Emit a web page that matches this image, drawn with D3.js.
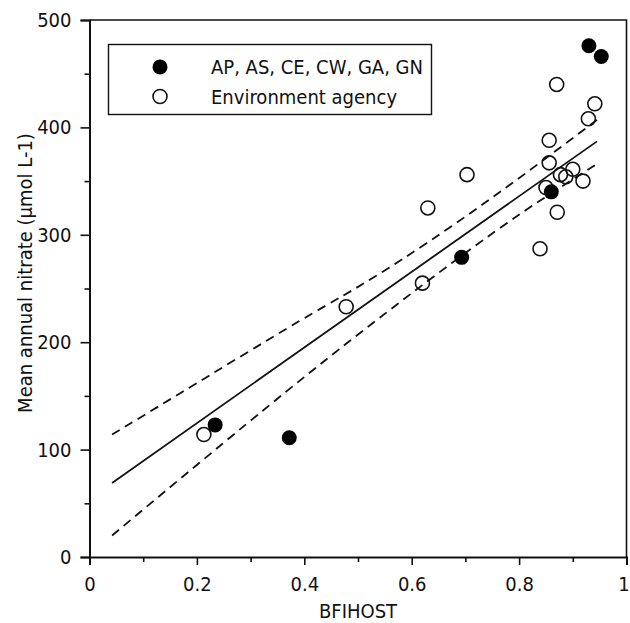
<!DOCTYPE html>
<html>
<head>
<meta charset="utf-8">
<script src="https://cdn.jsdelivr.net/npm/d3@7"></script>
<style>
    body { margin: 0; background: #fff; }
    svg text { font-family: "DejaVu Sans Condensed", "DejaVu Sans", sans-serif; font-stretch: condensed; fill: #111; }
</style>
</head>
<body>
<div id="chart"></div>
<script>
// Data
const filledX = [0.234, 0.372, 0.693, 0.860, 0.930, 0.953];
const filledY = [123, 111, 279, 340, 476, 466];
const openX = [0.213, 0.478, 0.620, 0.630, 0.703, 0.839, 0.850, 0.856, 0.856, 0.870, 0.871, 0.877, 0.887, 0.900, 0.919, 0.929, 0.941];
const openY = [114, 233, 255, 325, 356, 287, 344, 367, 388, 440, 321, 356, 354, 361, 350, 408, 422];

// regression line and confidence band
const fitX = [0.042, 0.945];
const fitY = [69, 387];
const upperX = [0.042, 0.169, 0.392, 0.541, 0.733, 0.945];
const upperY = [114, 152.5, 220, 264, 328.6, 407];
const lowerX = [0.042, 0.249, 0.401, 0.541, 0.755, 0.945];
const lowerY = [20, 106, 168, 223, 303, 366];

const xTicks = [0, 0.2, 0.4, 0.6, 0.8, 1];
const xMinor = [0.1, 0.3, 0.5, 0.7, 0.9];
const yTicks = [0, 100, 200, 300, 400, 500];
const yMinor = [50, 150, 250, 350, 450];

const legendLabels = ["AP, AS, CE, CW, GA, GN", "Environment agency"];

const width = 630, height = 623;
const plotLeft = 89.5, plotRight = 626.5, plotTop = 20, plotBottom = 557;

const svg = d3.select('#chart').append('svg')
    .attr('width', width)
    .attr('height', height);

const x = d3.scaleLinear().domain([0, 1]).range([plotLeft, plotRight]);
const y = d3.scaleLinear().domain([0, 500]).range([plotBottom, plotTop]);

// frame (top and right)
svg.append('path')
    .attr('d', `M${plotLeft},${plotTop}H${plotRight}V${plotBottom}`)
    .attr('fill', 'none')
    .attr('stroke', '#111')
    .attr('stroke-width', 1.6);

// x axis
const xAxis = svg.append('g').attr('transform', `translate(0,${plotBottom})`);
xAxis.call(d3.axisBottom(x).tickValues(xTicks).tickSize(8).tickPadding(12)
    .tickFormat(d => d === 0 ? '0' : d === 1 ? '1' : d3.format('.1f')(d)));
xAxis.append('g').call(d3.axisBottom(x).tickValues(xMinor).tickSize(5).tickFormat(''))
    .select('.domain').remove();
// keep the last label inside the window
xAxis.selectAll('.tick text').filter(d => d === 1).attr('dx', -3);

// y axis
const yAxis = svg.append('g').attr('transform', `translate(${plotLeft},0)`);
yAxis.call(d3.axisLeft(y).tickValues(yTicks).tickSize(9).tickPadding(9));
yAxis.append('g').call(d3.axisLeft(y).tickValues(yMinor).tickSize(5).tickFormat(''))
    .select('.domain').remove();

svg.selectAll('.domain').attr('stroke', '#111').attr('stroke-width', 2);
svg.selectAll('.tick line').attr('stroke', '#111').attr('stroke-width', 1.6);
svg.selectAll('.tick text').style('font-size', '20px').attr('fill', '#111');

// axis titles
svg.append('text')
    .attr('x', (plotLeft + plotRight) / 2)
    .attr('y', 618)
    .attr('text-anchor', 'middle')
    .style('font-size', '20px')
    .text('BFIHOST');

svg.append('text')
    .attr('transform', 'translate(32,273) rotate(-90)')
    .attr('text-anchor', 'middle')
    .style('font-size', '20px')
    .text('Mean annual nitrate (\u03bcmol L-1)');

// lines
const line = d3.line().x(d => x(d[0])).y(d => y(d[1]));
const curve = d3.line().x(d => x(d[0])).y(d => y(d[1])).curve(d3.curveNatural);

svg.append('path')
    .attr('d', line(d3.zip(fitX, fitY)))
    .attr('fill', 'none')
    .attr('stroke', '#111')
    .attr('stroke-width', 1.8);

[[upperX, upperY], [lowerX, lowerY]].forEach(b => {
    svg.append('path')
        .attr('d', curve(d3.zip(b[0], b[1])))
        .attr('fill', 'none')
        .attr('stroke', '#111')
        .attr('stroke-width', 1.8)
        .attr('stroke-dasharray', '9,6');
});

// points
svg.append('g').selectAll('circle')
    .data(d3.zip(openX, openY))
    .enter().append('circle')
    .attr('cx', d => x(d[0]))
    .attr('cy', d => y(d[1]))
    .attr('r', 7)
    .attr('fill', 'none')
    .attr('stroke', '#111')
    .attr('stroke-width', 1.6);

svg.append('g').selectAll('circle')
    .data(d3.zip(filledX, filledY))
    .enter().append('circle')
    .attr('cx', d => x(d[0]))
    .attr('cy', d => y(d[1]))
    .attr('r', 7.5)
    .attr('fill', '#000');

// legend
const legend = svg.append('g');
legend.append('rect')
    .attr('x', 108.5).attr('y', 44.5)
    .attr('width', 323).attr('height', 70)
    .attr('fill', '#fff')
    .attr('stroke', '#111')
    .attr('stroke-width', 1.4);

legendLabels.forEach((label, i) => {
    const cy = 67 + i * 29.5;
    legend.append('circle')
        .attr('cx', 160).attr('cy', cy)
        .attr('r', i === 0 ? 7.5 : 7)
        .attr('fill', i === 0 ? '#000' : 'none')
        .attr('stroke', '#111')
        .attr('stroke-width', i === 0 ? 0 : 1.6);
    legend.append('text')
        .attr('x', 211).attr('y', cy + 7)
        .style('font-size', '20px')
        .text(label);
});
</script>
</body>
</html>
